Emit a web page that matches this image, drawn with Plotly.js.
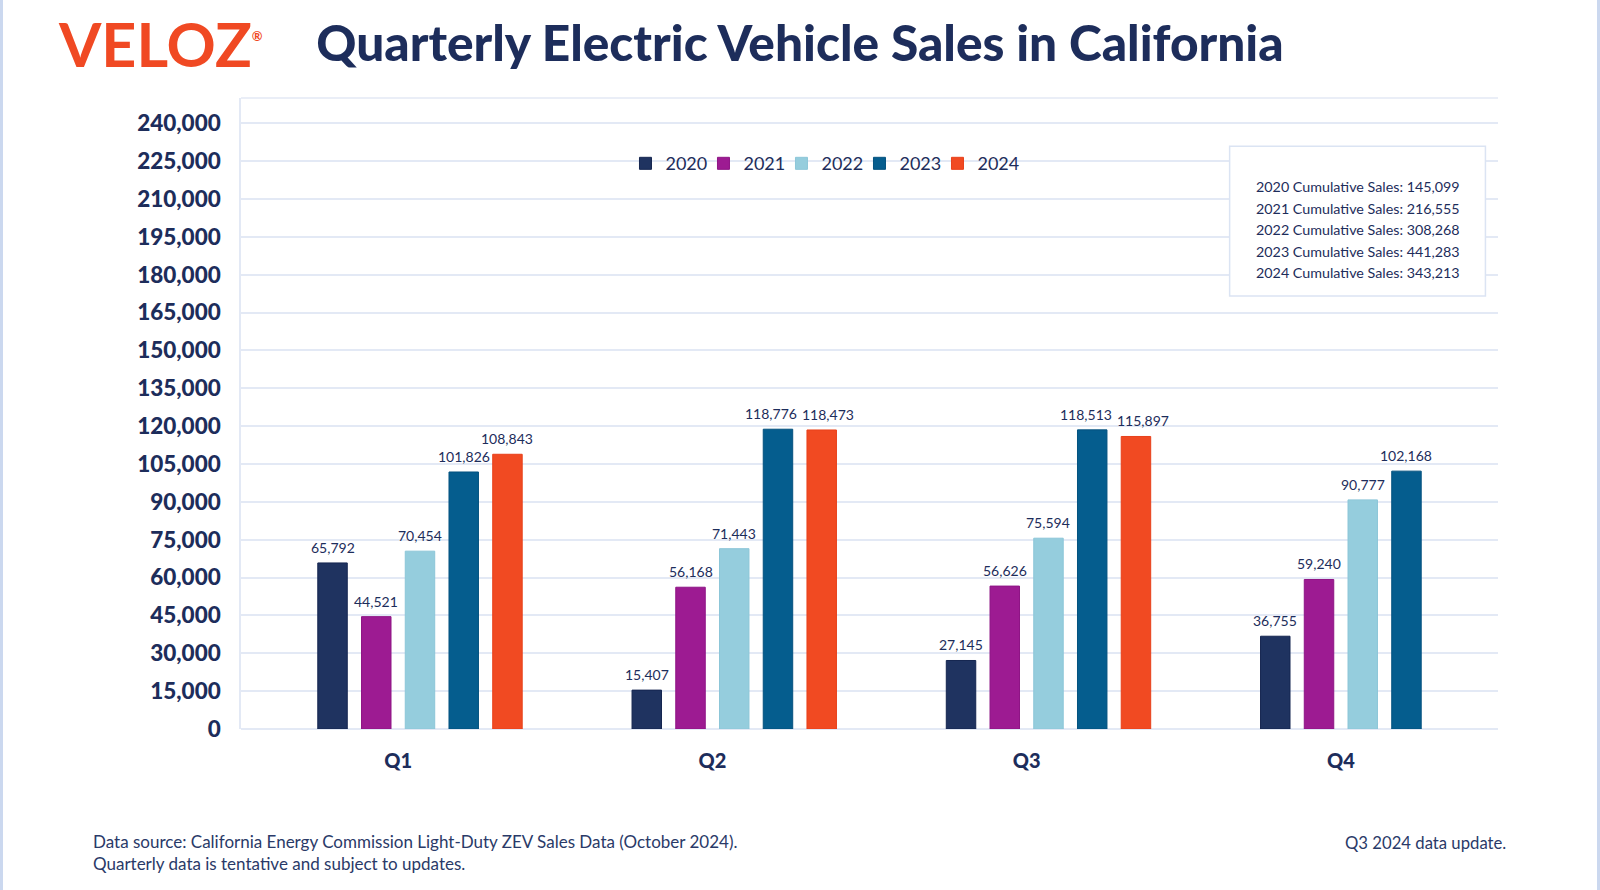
<!DOCTYPE html>
<html>
<head>
<meta charset="utf-8">
<script src="https://cdn.plot.ly/plotly-3.0.1.min.js"></script>
<style>
  html, body { margin: 0; padding: 0; background: #ffffff; }
  #wrap { position: relative; width: 1600px; height: 890px; }
  #chart { width: 1600px; height: 890px; }
  #chart .legend .scrollbox { clip-path: none !important; }
  .edge { position: absolute; top: 0; width: 3px; height: 890px; background: #cbd8ef; }
</style>
</head>
<body>
<div id="wrap">
  <div id="chart"></div>
  <div class="edge" style="left:0"></div>
  <div class="edge" style="right:0"></div>
</div>
<script>
// ---- data ----
const quarters = ["Q1", "Q2", "Q3", "Q4"];
const years = ["2020", "2021", "2022", "2023", "2024"];
const sales2020 = [65792, 15407, 27145, 36755];
const sales2021 = [44521, 56168, 56626, 59240];
const sales2022 = [70454, 71443, 75594, 90777];
const sales2023 = [101826, 118776, 118513, 102168];
const sales2024 = [108843, 118473, 115897, null];
const yTicks = [0, 15000, 30000, 45000, 60000, 75000, 90000, 105000, 120000, 135000, 150000, 165000, 180000, 195000, 210000, 225000, 240000];
const footerLeft = "Data source: California Energy Commission Light-Duty ZEV Sales Data (October 2024).<br>Quarterly data is tentative and subject to updates.";
const footerRight = "Q3 2024 data update.";
const chartTitle = "Quarterly Electric Vehicle Sales in California";

// ---- styles / layout constants ----
const colors = ["#1f3360", "#9d1b92", "#95cddd", "#055d8e", "#f14a22"];
const lineColors = ["#152650", "#8e1585", "#8cc6d8", "#04527f", "#e8401a"];
const navy = "#1d2d5b";
const grid = "#e3e9f5";
const fontFam = "Lato, 'Noto Sans', sans-serif";
const W = 1600, H = 890;
const M = { l: 241, r: 102, t: 98, b: 161 };
const BARGAP = 0.165, BARGROUPGAP = 0.326;
const Y_MAX = 250000;
const LABEL_SIZE = 14;

const seriesValues = [sales2020, sales2021, sales2022, sales2023, sales2024];
const nSlots = seriesValues.length + 1; // one unused leading slot per group, as in the source chart

const traces = [];
traces.push({
  type: "bar", x: quarters, y: quarters.map(() => null),
  name: "", showlegend: false, hoverinfo: "skip", marker: { color: "rgba(0,0,0,0)" }
});
seriesValues.forEach((vals, i) => {
  traces.push({
    type: "bar",
    x: quarters,
    y: vals,
    name: years[i],
    marker: { color: colors[i], line: { color: lineColors[i], width: 1 } },
    hovertemplate: years[i] + " %{x}: %{y:,}<extra></extra>"
  });
});

const fmt = n => n.toLocaleString("en-US");

// value labels: placed on each bar's slot via the category axis plus the group slot offset
const plotW = W - M.l - M.r, plotH = H - M.t - M.b;
const slotPx = plotW / quarters.length * (1 - BARGAP) / nSlots;
const pxPerUnit = plotH / Y_MAX;
const estWidth = s => s.length * LABEL_SIZE * 0.53;
const annotations = [];
quarters.forEach((q, j) => {
  const labels = seriesValues.map((vals, i) => vals[j] == null ? null : {
    i, v: vals[j], text: fmt(vals[j]), shift: (i + 1 - (nSlots - 1) / 2) * slotPx
  }).filter(Boolean);
  // push apart neighbouring labels that would collide
  for (let k = 0; k + 1 < labels.length; k++) {
    const a = labels[k], b = labels[k + 1];
    const dy = Math.abs(a.v - b.v) * pxPerUnit;
    const need = (estWidth(a.text) + estWidth(b.text)) / 2 + 5 - (b.shift - a.shift);
    if (dy < LABEL_SIZE * 1.2 && need > 0) { a.shift -= need / 2; b.shift += need / 2; }
  }
  labels.forEach(l => annotations.push({
    x: q, y: l.v, xref: "x", yref: "y", xshift: l.shift, yshift: 5,
    xanchor: "center", yanchor: "bottom", showarrow: false, text: l.text,
    font: { family: fontFam, size: LABEL_SIZE, color: navy }
  }));
});

// cumulative sums computed from the data
const cumulative = seriesValues.map(v => v.reduce((a, b) => a + (b || 0), 0));
cumulative.forEach((c, i) => {
  annotations.push({
    xref: "paper", yref: "paper", x: 0.806, y: 0.8594 - i * 0.034,
    xanchor: "left", yanchor: "middle", showarrow: false,
    text: years[i] + " Cumulative Sales: " + fmt(c),
    font: { family: fontFam, size: 14.3, color: navy }
  });
});
annotations.push({
  xref: "paper", yref: "paper", x: -0.119, y: -0.159,
  xanchor: "left", yanchor: "top", align: "left", showarrow: false,
  text: footerLeft, font: { family: fontFam, size: 17, color: "#2a3a68" }
});
annotations.push({
  xref: "paper", yref: "paper", x: 1.008, y: -0.181,
  xanchor: "right", yanchor: "middle", showarrow: false,
  text: footerRight, font: { family: fontFam, size: 16.7, color: "#2a3a68" }
});
annotations.push({
  xref: "paper", yref: "paper", x: -0.1472, y: 1.087,
  xanchor: "left", yanchor: "middle", showarrow: false,
  text: "VELOZ<sup><span style='font-size:13px'>®</span></sup>",
  font: { family: fontFam, size: 61, color: "#f04923", weight: "bold" }
});

const layout = {
  width: W, height: H,
  paper_bgcolor: "#ffffff", plot_bgcolor: "#ffffff",
  margin: M,
  title: {
    text: chartTitle,
    x: 0.5, xref: "container", xanchor: "center",
    y: 0.951, yref: "container", yanchor: "middle",
    font: { family: fontFam, size: 49.6, color: navy, weight: 900 }
  },
  barmode: "group",
  bargap: BARGAP,
  bargroupgap: BARGROUPGAP,
  showlegend: true,
  legend: {
    orientation: "h", x: 0.461, xanchor: "center", y: 0.896, yanchor: "middle",
    bgcolor: "rgba(0,0,0,0)", font: { family: fontFam, size: 18, color: navy },
    traceorder: "normal", entrywidth: 33, entrywidthmode: "pixels"
  },
  xaxis: {
    type: "category",
    showgrid: false, showline: false, zeroline: false,
    ticks: "", ticklabelstandoff: 18,
    tickfont: { family: fontFam, size: 20, color: navy, weight: 900 }
  },
  yaxis: {
    range: [0, Y_MAX],
    tickvals: yTicks,
    tickformat: ",d",
    showgrid: true, gridcolor: grid, gridwidth: 1.5,
    zeroline: true, zerolinecolor: grid, zerolinewidth: 1.5,
    showline: true, linecolor: grid, linewidth: 1.5,
    ticks: "", ticklabelstandoff: 14,
    tickfont: { family: fontFam, size: 22.5, color: navy, weight: 900 }
  },
  shapes: [
    { type: "line", xref: "paper", yref: "paper", x0: 0, x1: 1, y0: 1, y1: 1,
      line: { color: grid, width: 1.5 } },
    { type: "rect", xref: "paper", yref: "paper", x0: 0.7865, x1: 0.990, y0: 0.6862, y1: 0.9235,
      fillcolor: "#ffffff", line: { color: "#dbe4f3", width: 1.5 }, layer: "above" }
  ],
  annotations: annotations
};

Plotly.newPlot("chart", traces, layout, { displayModeBar: false, responsive: false });
</script>
</body>
</html>
